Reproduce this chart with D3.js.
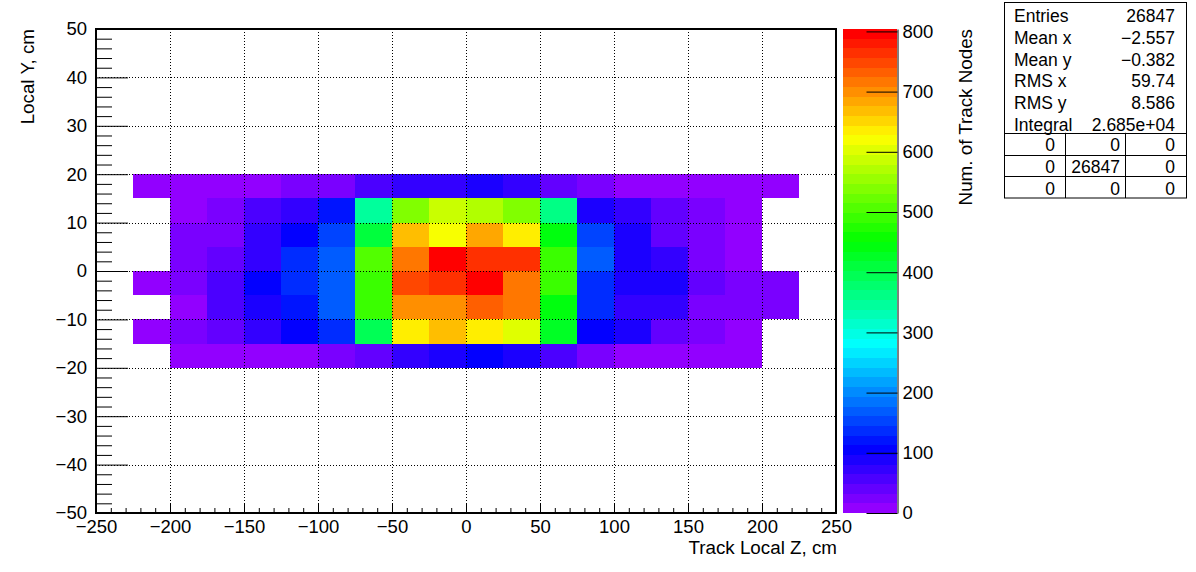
<!DOCTYPE html>
<html><head><meta charset="utf-8">
<script src="https://cdn.jsdelivr.net/npm/d3@7"></script>
<style>
body{margin:0;background:#fff;}
svg{display:block;font-family:"Liberation Sans",Arial,Helvetica,sans-serif;}
</style></head><body>
<svg id="c" width="1196" height="572"></svg>
<script>
// ---------------- data ----------------
const zRange = [-250, 250];
const yRange = [-50, 50];
const zBinWidth = 25;
const yBinWidth = 5;
const zBinLow = [-225,-200,-175,-150,-125,-100,-75,-50,-25,0,25,50,75,100,125,150,175,200];
const yBinLow = [15,10,5,0,-5,-10,-15,-20];
// counts per row (top row y in [15,20] ... bottom row y in [-20,-15]); 0 = empty bin
const row15  = [ 9,11,12,13, 22, 25, 58, 70, 74, 90, 68, 40, 26,14,12,11,10, 9];
const row10  = [ 0,14,28,55, 75,118,345,540,585,570,538,360, 90,76,42,26,13, 0];
const row5   = [ 0,26,30,72,104,155,410,668,620,685,636,440,152,88,45,28,14, 0];
const row0   = [ 0,28,42,74,138,170,506,716,804,764,762,490,168,90,74,27,15, 0];
const rowM5  = [12,27,58,105,138,172,488,750,768,796,718,492,136,92,86,44,27,24];
const rowM10 = [ 0,12,55,90,122,168,490,700,705,735,720,444,140,72,66,26,28,20];
const rowM15 = [10,24,42,70,106,136,395,640,670,638,606,428,104,90,40,25,12, 0];
const rowM20 = [ 0,13,11,12, 14, 26, 44, 70, 92,108, 88, 58, 24,15,12,11, 9, 0];
const counts = [row15,row10,row5,row0,rowM5,rowM10,rowM15,rowM20];

const xMajorTicks = d3.range(-250, 251, 50);
const xMinorTicks = d3.range(-250, 251, 10).filter(v => v % 50 !== 0);
const yMajorTicks = d3.range(-50, 51, 10);
const yMinorTicks = d3.range(-50, 51, 2).filter(v => v % 10 !== 0);
const xGrid = d3.range(-200, 201, 50);
const yGrid = d3.range(-40, 41, 10);
const colorTicks = d3.range(0, 801, 100);

const xTitle = "Track Local Z, cm";
const yTitle = "Local Y, cm";
const zTitle = "Num. of Track Nodes";
const statsLabels = ["Entries","Mean x","Mean y","RMS x","RMS y","Integral"];
const statsValues = ["26847","\u22122.557","\u22120.382","59.74","8.586","2.685e+04"];
const statsTable = [["0","0","0"],["0","26847","0"],["0","0","0"]];

// ---------------- drawing ----------------
const svg = d3.select("#c");
const P = {left:96, right:836, top:29, bottom:513};
const FS = 18.5;

const x = d3.scaleLinear().domain(zRange).range([P.left, P.right]);
const y = d3.scaleLinear().domain(yRange).range([P.bottom, P.top]);

const palette = d3.range(50).map(i => i === 49 ? "#ff0000" : d3.hsl(280 - (i + 1) * 5.6, 1, 0.5).formatHex());
const zMax = d3.max(counts.flat());
const color = d3.scaleQuantize().domain([0, zMax]).range(palette);

const cells = [];
counts.forEach((row, r) => row.forEach((v, c) => {
  if (v > 0) cells.push({z0: zBinLow[c], y0: yBinLow[r], v});
}));

svg.append("g").selectAll("rect").data(cells).join("rect")
  .attr("x", d => x(d.z0))
  .attr("width", d => x(d.z0 + zBinWidth) - x(d.z0))
  .attr("y", d => y(d.y0 + yBinWidth))
  .attr("height", d => y(d.y0) - y(d.y0 + yBinWidth))
  .attr("fill", d => color(d.v))
  .attr("shape-rendering", "crispEdges");

// grid
const grid = svg.append("g").attr("stroke", "#000").attr("stroke-width", 1).attr("stroke-dasharray", "1,2");
grid.selectAll("line.v").data(xGrid).join("line").attr("class","v")
  .attr("x1", d => Math.round(x(d)) + 0.5).attr("x2", d => Math.round(x(d)) + 0.5)
  .attr("y1", P.top).attr("y2", P.bottom);
grid.selectAll("line.h").data(yGrid).join("line").attr("class","h")
  .attr("y1", d => Math.round(y(d)) + 0.5).attr("y2", d => Math.round(y(d)) + 0.5)
  .attr("x1", P.left).attr("x2", P.right);

function styleAxis(g) {
  g.attr("font-size", null).attr("font-family", null);
  g.select(".domain").remove();
  g.selectAll("text").attr("font-size", FS).attr("fill", "#000");
  g.selectAll("line").attr("stroke", "#000");
}

// x axis
svg.append("g").attr("transform", `translate(0,${P.bottom})`)
  .call(d3.axisBottom(x).tickValues(xMinorTicks).tickSize(-5).tickSizeOuter(0).tickFormat(""))
  .call(styleAxis);
svg.append("g").attr("transform", `translate(0,${P.bottom})`)
  .call(d3.axisBottom(x).tickValues(xMajorTicks).tickSize(-10).tickSizeOuter(0).tickPadding(7).tickFormat(d3.format("d")))
  .call(styleAxis);

// y axis
svg.append("g").attr("transform", `translate(${P.left},0)`)
  .call(d3.axisLeft(y).tickValues(yMinorTicks).tickSize(-16).tickSizeOuter(0).tickFormat(""))
  .call(styleAxis);
svg.append("g").attr("transform", `translate(${P.left},0)`)
  .call(d3.axisLeft(y).tickValues(yMajorTicks).tickSize(-32).tickSizeOuter(0).tickPadding(9).tickFormat(d3.format("d")))
  .call(styleAxis);

// frame
svg.append("rect").attr("x", P.left).attr("y", P.top)
  .attr("width", P.right - P.left).attr("height", P.bottom - P.top)
  .attr("fill", "none").attr("stroke", "#000").attr("stroke-width", 2);

// titles
svg.append("text").attr("x", 837).attr("y", 554).attr("text-anchor", "end")
  .attr("font-size", 18.8).text(xTitle);
svg.append("text").attr("transform", "translate(33.5,29) rotate(-90)").attr("text-anchor", "end")
  .attr("font-size", 18.8).text(yTitle);

// color bar
const CB = {left:843, right:897};
const cy = d3.scaleLinear().domain([0, zMax]).range([P.bottom, P.top]);
svg.append("g").selectAll("rect").data(palette).join("rect")
  .attr("x", CB.left).attr("width", CB.right - CB.left)
  .attr("y", (d, i) => cy((i + 1) * zMax / 50))
  .attr("height", (d, i) => cy(i * zMax / 50) - cy((i + 1) * zMax / 50))
  .attr("fill", d => d)
  .attr("shape-rendering", "crispEdges");
const cax = svg.append("g").attr("transform", `translate(${CB.right + 0.5},0)`)
  .call(d3.axisRight(cy).tickValues(colorTicks).tickSize(-31).tickSizeOuter(0).tickPadding(5).tickFormat(d3.format("d")));
cax.attr("font-size", null).attr("font-family", null);
cax.selectAll("text").attr("font-size", FS).attr("fill", "#000");
cax.selectAll("line,path").attr("stroke", "#000");
svg.append("text").attr("transform", "translate(971.5,29) rotate(-90)").attr("text-anchor", "end")
  .attr("font-size", 18.8).text(zTitle);

// stats box
const SB = {x:1004.5, y:2.5, w:182, h:195.5};
const SFS = 17.5;
const rowH = SB.h / 9;
const sb = svg.append("g");
sb.append("rect").attr("x", SB.x).attr("y", SB.y).attr("width", SB.w).attr("height", SB.h)
  .attr("fill", "#fff").attr("stroke", "#000").attr("stroke-width", 1);
statsLabels.forEach((lab, k) => {
  const by = SB.y + rowH * k + rowH / 2 + 8.8;
  sb.append("text").attr("x", 1014).attr("y", by).attr("font-size", SFS).text(lab);
  sb.append("text").attr("x", 1175).attr("y", by).attr("font-size", SFS).attr("text-anchor", "end").text(statsValues[k]);
});
const colRight = [1055, 1120, 1175];
const colLines = [1065.5, 1125.5];
for (let k = 6; k < 9; k++) {
  const ly = Math.round(SB.y + rowH * k) + 0.5;
  sb.append("line").attr("x1", SB.x).attr("x2", SB.x + SB.w).attr("y1", ly).attr("y2", ly).attr("stroke", "#000");
}
colLines.forEach(cx => sb.append("line").attr("x1", cx).attr("x2", cx)
  .attr("y1", SB.y + rowH * 6).attr("y2", SB.y + SB.h).attr("stroke", "#000"));
statsTable.forEach((row, r) => row.forEach((v, c) => {
  const by = SB.y + rowH * (6 + r) + rowH / 2 + 7.5;
  sb.append("text").attr("x", colRight[c]).attr("y", by).attr("font-size", SFS).attr("text-anchor", "end").text(v);
}));
</script>
</body></html>
